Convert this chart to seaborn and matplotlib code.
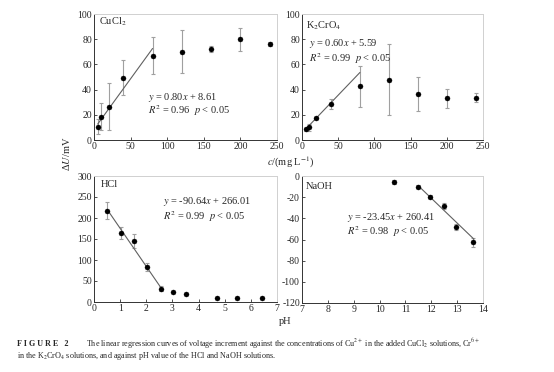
import numpy as np
import pandas as pd
import matplotlib
matplotlib.use("Agg")
import matplotlib.pyplot as plt
import seaborn as sns

# CuCl2 panel
cu_x = [5, 10, 20, 40, 80, 120, 160, 200, 240]
cu_y = [10.5, 18.5, 26.5, 49.5, 67, 70, 72.5, 80, 76.5]
cu_err = [6, 10.5, 18.5, 14, 15, 17, 2.5, 9, 1.5]
cu_fit = (0.80, 8.61, 5, 80)

# K2CrO4 panel
cr_x = [5, 10, 20, 40, 80, 120, 160, 200, 240]
cr_y = [8.5, 10, 17.5, 28.5, 42.5, 48, 36.5, 33, 33.5]
cr_err = [1, 2.5, 1, 4, 16, 28.5, 13.5, 7.5, 3.5]
cr_fit = (0.60, 5.59, 5, 80)

# HCl panel
hcl_x = [0.5, 1.03, 1.52, 2.02, 2.57, 3.02, 3.51, 4.72, 5.46, 6.43]
hcl_y = [217, 164, 145, 83, 32, 25, 18, 10, 9, 10]
hcl_err = [20, 14, 16, 10, 5, 0, 0, 0, 0, 0]
hcl_fit = (-90.64, 266.01, 0.5, 2.55)

# NaOH panel
na_x = [10.55, 11.5, 11.96, 12.5, 12.97, 13.6]
na_y = [-6, -10, -19.5, -28.5, -48, -62.7]
na_err = [2, 1.5, 1.5, 3, 3, 4]
na_fit = (-23.45, 260.41, 11.5, 13.65)

r2_vals = ["0.96", "0.99", "0.99", "0.98"]

sns.set_style("ticks")
plt.rcParams['font.family'] = ['Liberation Serif', 'DejaVu Serif']
plt.rcParams['mathtext.fontset'] = 'stix'
plt.rcParams['axes.unicode_minus'] = False

fig = plt.figure(figsize=(5.54, 3.72), dpi=100)
W, H = 554, 372


def add_ax(x0, x1, ytop, ybot):
    return fig.add_axes([x0 / W, 1 - ybot / H, (x1 - x0) / W, (ybot - ytop) / H])


panels = [
    (add_ax(94, 277, 14, 140), cu_x, cu_y, cu_err, cu_fit, "CuCl$_2$",
     (0, 250, 50), (0, 100, 20), (0.295, 0.341, 0.23), (0.027, 0.935)),
    (add_ax(302, 483, 14, 140), cr_x, cr_y, cr_err, cr_fit, "K$_2$CrO$_4$",
     (0, 250, 50), (0, 100, 20), (0.039, 0.762, 0.643), (0.022, 0.91)),
    (add_ax(94, 277, 176, 302), hcl_x, hcl_y, hcl_err, hcl_fit, "HCl",
     (0, 7, 1), (0, 300, 50), (0.377, 0.794, 0.675), (0.037, 0.935)),
    (add_ax(302, 483, 176, 303), na_x, na_y, na_err, na_fit, "NaOH",
     (7, 14, 1), (-120, 0, 20), (0.249, 0.677, 0.559), (0.022, 0.92)),
]

for (ax, xs, ys, es, fit, name, xr, yr, eqpos, namepos), r2 in zip(panels, r2_vals):
    k, b, xa, xb = fit
    df = pd.DataFrame({"x": xs, "y": ys, "e": es})
    ax.errorbar(df["x"], df["y"], yerr=df["e"], fmt="none", ecolor="#a0a0a0",
                elinewidth=0.8, capsize=1.5, capthick=0.8, zorder=1)
    line = pd.DataFrame({"x": [xa, xb], "y": [k * xa + b, k * xb + b]})
    sns.lineplot(data=line, x="x", y="y", ax=ax, color="#606060", lw=0.8, zorder=2)
    sns.scatterplot(data=df, x="x", y="y", ax=ax, color="black", s=13,
                    edgecolor="black", linewidth=0.3, zorder=3)
    ax.set_xlim(xr[0], xr[1])
    ax.set_ylim(yr[0], yr[1])
    ax.set_xticks(np.arange(xr[0], xr[1] + xr[2] / 2, xr[2]))
    ax.set_yticks(np.arange(yr[0], yr[1] + yr[2] / 2, yr[2]))
    ax.set_xlabel("")
    ax.set_ylabel("")
    ax.tick_params(direction="in", length=2.5, width=0.6, labelsize=7,
                   pad=1.5, color="#333333")
    for s in ["left", "bottom"]:
        ax.spines[s].set_color("#333333")
        ax.spines[s].set_linewidth(0.7)
    for s in ["top", "right"]:
        ax.spines[s].set_visible(True)
        ax.spines[s].set_color("#d0d0d0")
        ax.spines[s].set_linewidth(0.7)
    sign = "-" if k < 0 else ""
    eq = "$y$ = %s%.2f$x$ + %.2f" % (sign, abs(k), b)
    ax.text(eqpos[0], eqpos[1], eq, transform=ax.transAxes, fontsize=7.5,
            va="center", ha="left")
    ax.text(eqpos[0], eqpos[2], "$R^2$ = %s  $p$ < 0.05" % r2, transform=ax.transAxes,
            fontsize=7.5, va="center", ha="left")
    ax.text(namepos[0], namepos[1], name, transform=ax.transAxes, fontsize=7.5,
            va="center", ha="left")

fig.text(67 / W, 1 - 154 / H, "Δ$U$/mV", rotation=90, fontsize=7.5,
         ha="center", va="center")
fig.text(291 / W, 1 - 162 / H, "$c$/(mg L$^{-1}$)", fontsize=7.5,
         ha="center", va="center")
fig.text(285 / W, 1 - 321 / H, "pH", fontsize=7.5, ha="center", va="center")

fig.text(17 / W, 1 - 344 / H, "F I G U R E   2", fontsize=5.9, fontweight="bold",
         ha="left", va="center")
fig.text(86 / W, 1 - 344 / H,
         "The linear regression curves of voltage increment against the "
         "concentrations of Cu$^{2+}$ in the added CuCl$_2$ solutions, Cr$^{6+}$",
         fontsize=5.85, ha="left", va="center")
fig.text(17 / W, 1 - 356 / H,
         "in the K$_2$CrO$_4$ solutions, and against pH value of the HCl and NaOH solutions.",
         fontsize=5.85, ha="left", va="center")

fig.savefig("out.png", dpi=100)
